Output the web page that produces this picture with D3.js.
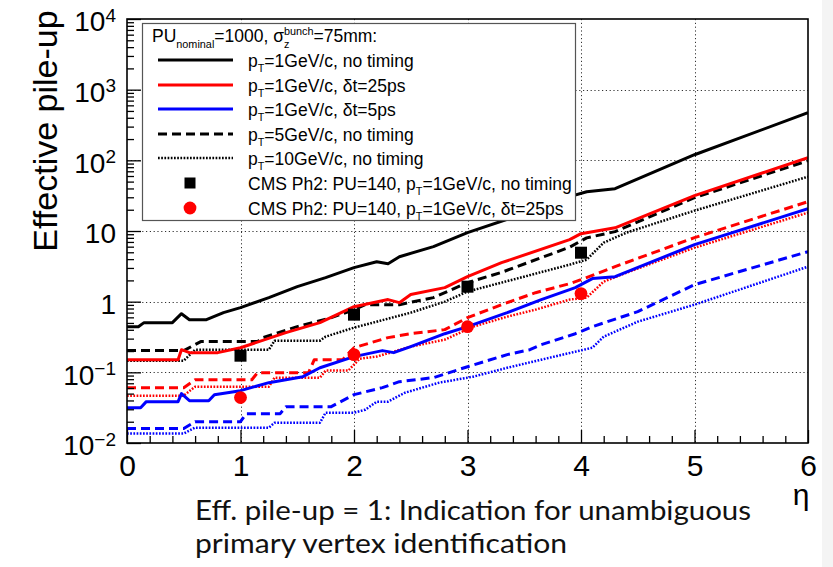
<!DOCTYPE html>
<html>
<head>
<meta charset="utf-8">
<script src="https://cdn.jsdelivr.net/npm/d3@7"></script>
<style>
  html, body { margin: 0; padding: 0; background: #ffffff; }
  svg { display: block; }
</style>
</head>
<body>
<svg id="chart" width="833" height="567"></svg>
<script>
// ---- axis definitions ----
const xMajorTicks = [0, 1, 2, 3, 4, 5, 6];
const xMinorTicks = d3.range(0, 6.0001, 0.2).filter(v => Math.abs(v - Math.round(v)) > 1e-6);
const yDecades = [1e-2, 1e-1, 1, 10, 1e2, 1e3, 1e4];

// ---- effective pile-up vs eta, PU_nominal = 1000 ----
const pt1NoTiming = [[0,0.443],[0.1,0.443],[0.15,0.505],[0.4,0.505],[0.48,0.676],[0.55,0.556],[0.7,0.556],[0.85,0.699],[1.0,0.823],[1.25,1.14],[1.5,1.63],[1.75,2.19],[2.0,3.03],[2.2,3.68],[2.3,3.45],[2.4,4.33],[2.7,6.0],[3.0,9.47],[3.5,17.6],[3.9,30.6],[4.05,36.0],[4.3,39.7],[5.0,120],[6.0,472]];
const pt1Dt25 = [[0,0.151],[0.45,0.151],[0.48,0.209],[0.55,0.190],[0.8,0.190],[1.0,0.223],[1.4,0.364],[1.7,0.505],[2.0,0.849],[2.3,1.07],[2.4,0.968],[2.5,1.26],[2.8,1.58],[3.0,2.26],[3.3,3.56],[3.9,7.54],[4.0,9.17],[4.3,11.1],[5.0,31.6],[6.0,109]];
const pt1Dt5 = [[0,0.0316],[0.12,0.0316],[0.17,0.0385],[0.45,0.0385],[0.48,0.0499],[0.55,0.0397],[0.72,0.0397],[0.77,0.0483],[1.0,0.0550],[1.25,0.0714],[1.55,0.0868],[1.7,0.116],[2.0,0.167],[2.25,0.203],[2.35,0.190],[2.5,0.231],[2.8,0.352],[3.0,0.443],[3.35,0.699],[3.65,1.07],[3.95,1.58],[4.1,2.12],[4.3,2.26],[5.0,6.41],[6.0,20.7]];
const pt5NoTiming = [[0,0.203],[0.5,0.203],[0.65,0.272],[1.15,0.272],[1.2,0.310],[1.5,0.443],[1.8,0.594],[2.0,0.771],[2.1,0.907],[2.4,0.907],[2.7,1.14],[3.0,1.86],[3.3,2.6],[3.9,5.9],[4.05,8.0],[4.3,9.79],[5.0,29.6],[6.0,98.9]];
const pt5Dt25 = [[0,0.0607],[0.5,0.0607],[0.6,0.0787],[1.1,0.0787],[1.15,0.0989],[1.6,0.0989],[1.65,0.151],[1.9,0.151],[2.0,0.223],[2.3,0.310],[2.5,0.352],[2.8,0.402],[3.0,0.594],[3.3,0.907],[3.6,1.34],[3.9,1.80],[4.0,2.05],[4.3,3.13],[5.0,8.05],[6.0,26.0]];
const pt5Dt5 = [[0,0.0160],[0.5,0.0160],[0.6,0.0200],[1.0,0.0200],[1.05,0.0260],[1.35,0.0260],[1.4,0.0327],[1.8,0.0327],[2.0,0.0483],[2.25,0.0607],[2.4,0.0738],[2.7,0.0841],[3.0,0.120],[3.35,0.178],[3.55,0.209],[3.65,0.246],[3.95,0.352],[4.1,0.443],[4.5,0.722],[5.0,1.74],[6.0,5.10]];
const pt10NoTiming = [[0,0.146],[0.5,0.146],[0.6,0.209],[1.25,0.209],[1.3,0.281],[1.7,0.281],[1.75,0.320],[2.0,0.429],[2.2,0.521],[2.5,0.699],[2.8,1.0],[3.0,1.39],[3.4,2.05],[3.7,2.75],[3.9,3.34],[4.05,3.93],[4.2,6.84],[4.4,9.47],[5.0,19.4],[6.0,58.7]];
const pt10Dt25 = [[0,0.0468],[0.5,0.0468],[0.6,0.0627],[1.25,0.0627],[1.3,0.0841],[1.7,0.0841],[1.75,0.106],[1.95,0.106],[2.05,0.156],[2.2,0.167],[2.5,0.231],[2.8,0.290],[3.05,0.443],[3.35,0.614],[3.6,0.771],[3.9,1.07],[4.05,1.14],[4.2,1.92],[4.4,2.57],[5.0,5.81],[6.0,18.2]];
const pt10Dt5 = [[0,0.0136],[0.5,0.0136],[0.6,0.0165],[1.25,0.0165],[1.3,0.0194],[1.7,0.0194],[1.75,0.0269],[2.0,0.0269],[2.1,0.0296],[2.2,0.0385],[2.3,0.0385],[2.45,0.0515],[2.75,0.0714],[3.05,0.0868],[3.35,0.116],[3.65,0.151],[3.95,0.196],[4.1,0.223],[4.2,0.320],[4.5,0.521],[5.0,0.907],[6.0,3.13]];

// ---- CMS Phase-2 reference points (PU = 140, pT = 1 GeV/c) ----
const cmsEta = [1, 2, 3, 4];
const cmsNoTiming = [0.172, 0.655, 1.63, 4.93];
const cmsDt25 = [0.044, 0.178, 0.443, 1.30];

// ---- styles ----
const styleSolid = { width: 3, dash: null };
const styleDashed = { width: 3, dash: "9,5" };
const styleDotted = { width: 2.5, dash: "1.7,1.5" };

const curves = [
  { data: pt10Dt5, color: "#0000ff", style: styleDotted },
  { data: pt5Dt5, color: "#0000ff", style: styleDashed },
  { data: pt10Dt25, color: "#ff0000", style: styleDotted },
  { data: pt5Dt25, color: "#ff0000", style: styleDashed },
  { data: pt10NoTiming, color: "#000000", style: styleDotted },
  { data: pt5NoTiming, color: "#000000", style: styleDashed },
  { data: pt1Dt5, color: "#0000ff", style: styleSolid },
  { data: pt1Dt25, color: "#ff0000", style: styleSolid },
  { data: pt1NoTiming, color: "#000000", style: styleSolid }
];

const FONT = "'Liberation Sans', Arial, Helvetica, sans-serif";

const svg = d3.select("#chart");

// light backdrop at the right edge
svg.append("rect").attr("x", 0).attr("y", 0).attr("width", 833).attr("height", 567).attr("fill", "#ffffff");
svg.append("rect").attr("x", 822).attr("y", 0).attr("width", 11).attr("height", 567).attr("fill", "#f4f4f4");

const frame = { left: 127, right: 808, top: 19, bottom: 443 };
const x = d3.scaleLinear().domain([0, 6]).range([frame.left, frame.right]);
const y = d3.scaleLog().domain([1e-2, 1e4]).range([frame.bottom, frame.top]);

svg.append("defs").append("clipPath").attr("id", "plotClip")
  .append("rect").attr("x", frame.left).attr("y", frame.top)
  .attr("width", frame.right - frame.left).attr("height", frame.bottom - frame.top);

// ---- grid ----
const grid = svg.append("g").attr("stroke", "#333").attr("stroke-width", 1).attr("stroke-dasharray", "1.2,2.6");
grid.selectAll("line.gx").data(xMajorTicks.slice(1, -1)).join("line")
  .attr("x1", d => Math.round(x(d)) + 0.5).attr("x2", d => Math.round(x(d)) + 0.5)
  .attr("y1", frame.top).attr("y2", frame.bottom);
grid.selectAll("line.gy").data(yDecades.slice(1, -1)).join("line")
  .attr("y1", d => Math.round(y(d)) + 0.5).attr("y2", d => Math.round(y(d)) + 0.5)
  .attr("x1", frame.left).attr("x2", frame.right);

// ---- curves ----
const line = d3.line().x(d => x(d[0])).y(d => y(d[1]));
const plot = svg.append("g").attr("clip-path", "url(#plotClip)");
curves.forEach(c => {
  plot.append("path").datum(c.data)
    .attr("d", line)
    .attr("fill", "none")
    .attr("stroke", c.color)
    .attr("stroke-width", c.style.width)
    .attr("stroke-dasharray", c.style.dash)
    .attr("stroke-linejoin", "round");
});

// ---- markers ----
const markSize = 12;
svg.append("g").selectAll("rect").data(cmsEta.map((e, i) => [e, cmsNoTiming[i]])).join("rect")
  .attr("x", d => x(d[0]) - markSize / 2).attr("y", d => y(d[1]) - markSize / 2)
  .attr("width", markSize).attr("height", markSize).attr("fill", "#000");
svg.append("g").selectAll("circle").data(cmsEta.map((e, i) => [e, cmsDt25[i]])).join("circle")
  .attr("cx", d => x(d[0])).attr("cy", d => y(d[1])).attr("r", 6.4).attr("fill", "#ff0000");

// ---- axes ----
const xAxisMajor = d3.axisBottom(x).tickValues(xMajorTicks).tickSize(-13).tickPadding(12).tickFormat(d3.format("d"));
const xAxisMinor = d3.axisBottom(x).tickValues(xMinorTicks).tickSize(-7).tickFormat("");
const gxMinor = svg.append("g").attr("transform", `translate(0,${frame.bottom})`).call(xAxisMinor);
const gx = svg.append("g").attr("transform", `translate(0,${frame.bottom})`).call(xAxisMajor);
[gx, gxMinor].forEach(g => {
  g.select(".domain").remove();
  g.selectAll(".tick line").attr("stroke", "#000").attr("stroke-width", 1.3);
});
gx.selectAll(".tick text").attr("font-family", FONT).attr("font-size", 30).attr("fill", "#000");

const yMinor = [];
yDecades.slice(0, -1).forEach(d => { for (let k = 2; k <= 9; k++) yMinor.push(d * k); });
const yAxisMajor = d3.axisLeft(y).tickValues(yDecades).tickSize(-14).tickPadding(11);
const yAxisMinor = d3.axisLeft(y).tickValues(yMinor).tickSize(-7).tickFormat("");
const gyMinor = svg.append("g").attr("transform", `translate(${frame.left},0)`).call(yAxisMinor);
const gy = svg.append("g").attr("transform", `translate(${frame.left},0)`).call(yAxisMajor);
[gy, gyMinor].forEach(g => {
  g.select(".domain").remove();
  g.selectAll(".tick line").attr("stroke", "#000").attr("stroke-width", 1.3);
});
gy.selectAll(".tick text")
  .attr("font-family", FONT).attr("font-size", 28).attr("fill", "#000").attr("dy", "0.42em")
  .each(function (d) {
    const e = Math.round(Math.log10(d));
    const t = d3.select(this).text(null);
    if (e === 0) { t.text("1"); return; }
    if (e === 1) { t.text("10"); return; }
    t.append("tspan").text("10");
    t.append("tspan").attr("dy", "-0.5em").attr("font-size", 19).text(e < 0 ? "\u2212" + (-e) : String(e));
  });

// frame
svg.append("rect").attr("x", frame.left).attr("y", frame.top)
  .attr("width", frame.right - frame.left).attr("height", frame.bottom - frame.top)
  .attr("fill", "none").attr("stroke", "#000").attr("stroke-width", 1.6);

// ---- axis titles ----
svg.append("text").attr("transform", "translate(57,131) rotate(-90)")
  .attr("text-anchor", "middle").attr("font-family", FONT).attr("font-size", 34).text("Effective pile-up");
svg.append("text").attr("x", 801).attr("y", 505).attr("text-anchor", "middle")
  .attr("font-family", FONT).attr("font-size", 30).text("\u03b7");

// ---- legend ----
const leg = svg.append("g");
leg.append("rect").attr("x", 142.5).attr("y", 23.5).attr("width", 433).attr("height", 197)
  .attr("fill", "#fff").attr("stroke", "#555").attr("stroke-width", 1.2);

// places runs of text one after another; sub/sup runs are smaller and shifted
function richText(g, x0, y0, size, parts) {
  let cx = x0, prevStart = x0, prevW = 0;
  parts.forEach(p => {
    const small = p.sub || p.sup;
    const fs = small ? size * 0.62 : size;
    const dy = p.sub ? size * 0.32 : p.sup ? -size * 0.42 : 0;
    const startX = p.stack ? prevStart : cx;
    const el = g.append("text").attr("x", startX).attr("y", y0 + dy)
      .attr("font-family", FONT).attr("font-size", fs).attr("fill", "#000").text(p.t);
    const w = el.node().getComputedTextLength();
    if (p.stack) { cx = startX + Math.max(prevW, w); }
    else { prevStart = startX; prevW = w; cx = startX + w; }
  });
}

const LS = 17.5;
richText(leg, 152, 42, LS, [
  { t: "PU" }, { t: "nominal", sub: true }, { t: "=1000, \u03c3" },
  { t: "z", sub: true }, { t: "bunch", sup: true, stack: true }, { t: "=75mm:" }
]);

const legendRows = [
  { y: 60, kind: "line", color: "#000", style: styleSolid, parts: [{ t: "p" }, { t: "T", sub: true }, { t: "=1GeV/c, no timing" }] },
  { y: 85, kind: "line", color: "#ff0000", style: styleSolid, parts: [{ t: "p" }, { t: "T", sub: true }, { t: "=1GeV/c, \u03b4t=25ps" }] },
  { y: 109, kind: "line", color: "#0000ff", style: styleSolid, parts: [{ t: "p" }, { t: "T", sub: true }, { t: "=1GeV/c, \u03b4t=5ps" }] },
  { y: 134, kind: "line", color: "#000", style: styleDashed, parts: [{ t: "p" }, { t: "T", sub: true }, { t: "=5GeV/c, no timing" }] },
  { y: 158, kind: "line", color: "#000", style: styleDotted, parts: [{ t: "p" }, { t: "T", sub: true }, { t: "=10GeV/c, no timing" }] },
  { y: 183, kind: "square", color: "#000", parts: [{ t: "CMS Ph2: PU=140, p" }, { t: "T", sub: true }, { t: "=1GeV/c, no timing" }] },
  { y: 208, kind: "circle", color: "#ff0000", parts: [{ t: "CMS Ph2: PU=140, p" }, { t: "T", sub: true }, { t: "=1GeV/c, \u03b4t=25ps" }] }
];
legendRows.forEach(r => {
  if (r.kind === "line") {
    leg.append("line").attr("x1", 158).attr("x2", 233).attr("y1", r.y).attr("y2", r.y)
      .attr("stroke", r.color).attr("stroke-width", r.style.width).attr("stroke-dasharray", r.style.dash);
  } else if (r.kind === "square") {
    leg.append("rect").attr("x", 190 - 5.5).attr("y", r.y - 5.5).attr("width", 11).attr("height", 11).attr("fill", r.color);
  } else {
    leg.append("circle").attr("cx", 190).attr("cy", r.y).attr("r", 6.4).attr("fill", r.color);
  }
  richText(leg, 248, r.y + 6.5, LS, r.parts);
});

// ---- note below the chart ----
const note = svg.append("g").attr("font-family", "Lato, 'Open Sans', sans-serif").attr("font-size", 26).attr("fill", "#111");
note.append("text").attr("x", 195).attr("y", 520).attr("textLength", 556).attr("lengthAdjust", "spacingAndGlyphs")
  .text("Eff. pile-up = 1: Indication for unambiguous");
note.append("text").attr("x", 195).attr("y", 553).attr("textLength", 372).attr("lengthAdjust", "spacingAndGlyphs")
  .text("primary vertex identification");
</script>
</body>
</html>
